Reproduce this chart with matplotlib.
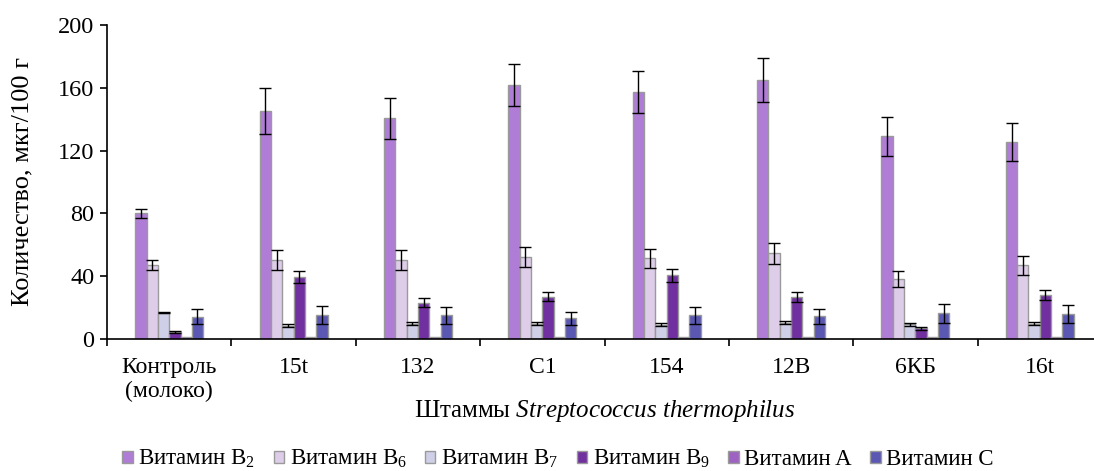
import matplotlib
matplotlib.use("Agg")
import matplotlib.pyplot as plt
import numpy as np

plt.rcParams['font.family'] = ['Liberation Serif', 'DejaVu Serif']
plt.rcParams['mathtext.fontset'] = 'custom'
plt.rcParams['mathtext.rm'] = 'Liberation Serif'
plt.rcParams['mathtext.it'] = 'Liberation Serif:italic'

# Strains and vitamin content, mkg/100 g (mean and error)
strains = ['Контроль\n(молоко)', '15t', '132', 'C1', '154', '12B', '6КБ', '16t']
series = ['Витамин B$_2$', 'Витамин B$_6$', 'Витамин B$_7$', 'Витамин B$_9$', 'Витамин A', 'Витамин C']

b2 = [80, 145, 140.6, 161.8, 157.3, 165, 129, 125.7]
b2_err = [2.8, 14.6, 13, 13.4, 13.6, 14, 12.3, 12.1]
b6 = [47, 50.3, 50.3, 52, 51.4, 54.6, 38, 47]
b6_err = [3.3, 6.5, 6.4, 6.4, 6, 6.7, 5, 6]
b7 = [16.8, 8.5, 9.6, 9.6, 9, 10.5, 9.5, 9.6]
b7_err = [0.4, 1, 1, 1, 1, 1, 1, 1]
b9 = [4.5, 39.5, 23.1, 27, 40.5, 26.8, 6.8, 28]
b9_err = [0.4, 4, 3, 3, 4, 3, 1, 3]
vit_a = [1, 1, 1, 1, 1, 1, 1, 1]
vit_a_err = [0, 0, 0, 0, 0, 0, 0, 0]
vit_c = [14.2, 15.5, 15.1, 13.2, 15.1, 14.4, 16.3, 15.9]
vit_c_err = [4.9, 5.7, 5.5, 4.2, 5.3, 5, 5.8, 5.5]

values = [b2, b6, b7, b9, vit_a, vit_c]
errors = [b2_err, b6_err, b7_err, b9_err, vit_a_err, vit_c_err]
colors = ['#B07DD6', '#DECDE9', '#CFCFE8', '#7030A0', '#9E62C2', '#5B58B4']

fig = plt.figure(figsize=(10.94, 4.71), dpi=100)
ax = fig.add_axes([107 / 1094, 1 - 339 / 471, 995 / 1094, 314 / 471])

x = np.arange(len(strains))
w = 0.091
for i, (vals, errs, col, name) in enumerate(zip(values, errors, colors, series)):
    pos = x + (i - 2.5) * w
    ax.bar(pos, vals, width=w, color=col, edgecolor='#9a9a9a', linewidth=1, label=name, zorder=2)
    e = np.array(errs)
    mask = e > 0
    if mask.any():
        ax.errorbar(pos[mask], np.array(vals)[mask], yerr=e[mask], fmt='none',
                    ecolor='black', elinewidth=1, capsize=4, capthick=1, zorder=3)

ax.set_xlim(-0.5, len(strains) - 0.5)
ax.set_ylim(0, 200)
ax.set_yticks([0, 40, 80, 120, 160, 200])
ax.set_xticks(x)
ax.set_xticklabels(strains, fontsize=17, linespacing=1.15)
ax.tick_params(axis='x', which='major', length=0, pad=13)
ax.set_xticks(np.arange(len(strains)) - 0.5, minor=True)
ax.tick_params(axis='x', which='minor', length=5, width=1.2, direction='out')
ax.tick_params(axis='y', length=5, width=1.2, labelsize=17.5, pad=4)

for s in ['top', 'right']:
    ax.spines[s].set_visible(False)
ax.spines['left'].set_linewidth(1.2)
ax.spines['bottom'].set_linewidth(1.2)

ax.set_ylabel('Количество, мкг/100 г', fontsize=19)
ax.yaxis.set_label_coords(-74 / 995, 0.5)
fig.text(605 / 1094, 1 - 411 / 471, 'Штаммы $\\mathit{Streptococcus\\ thermophilus}$',
         fontsize=18, ha='center', va='center')

fig.legend(loc='center', bbox_to_anchor=(558 / 1094, 1 - 459 / 471), ncol=6, frameon=False,
           fontsize=16.5, handlelength=0.45, handleheight=0.45, handletextpad=0.25,
           columnspacing=0.8)

fig.savefig('out.png', dpi=100)
